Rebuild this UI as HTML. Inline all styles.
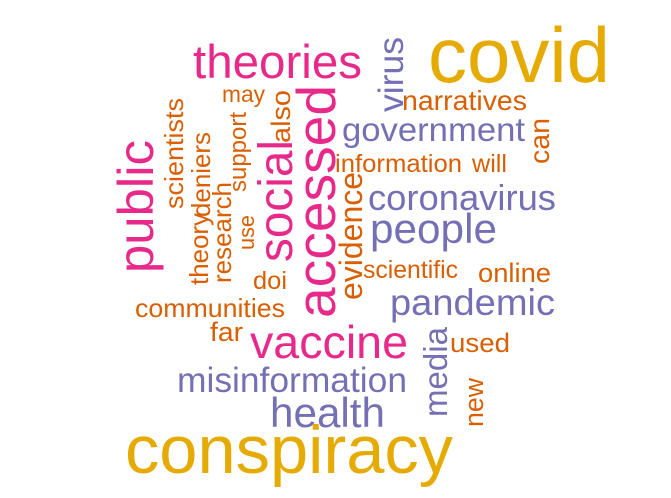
<!DOCTYPE html>
<html><head><meta charset="utf-8"><style>
html,body{margin:0;padding:0;background:#fff;width:671px;height:498px;overflow:hidden}
svg text{font-family:"Liberation Sans",Arial,sans-serif}
</style></head><body>
<svg width="671" height="498" viewBox="0 0 671 498">
<g id="words"></g>
</svg>
<script>
// word, size, x, y(baseline), rotated, color, length
const words = ["covid","theories","virus","narratives","may","accessed","also","support","scientists","deniers","theory","research","use","social","public","evidence","government","can","information","will","coronavirus","people","scientific","online","doi","pandemic","communities","far","vaccine","media","used","misinformation","new","health","conspiracy"];
const sizes = [78,47,35,28,23,55,27,24,26,26,26,26,22,48,50,32,33,28,25,25,36,42,25,27,25,37,26,27,46,33,27,35,27,42,68];
const xs = [428,193,403,402,222,335,290,246,183,210,208,231,254,292,153,362,342,549,335,472,368,370,363,478,253,390,135,210,250,447,450,177,483,270,125];
const ys = [82,78,112,110,102,318,143,192,209,217,285,283,250,262,273,300,141,164,172,172,210,243,278,282,289,315,317,341,358,417,352,392,427,427,473];
const rot = [0,0,1,0,0,1,1,1,1,1,1,1,1,1,1,1,0,1,0,0,0,0,0,0,0,0,0,0,0,1,0,0,1,0,0];
const colorKey = ["g","p","u","o","o","p","o","o","o","o","o","o","o","p","p","o","u","o","o","o","u","u","o","o","o","u","o","o","p","u","o","u","o","u","g"];
const lens = [182,169,75,125,43,233,53,80,111,85,72,101,35,122,133,128,183,46,127,35,188,127,95,73,34,165,150,33,158,90,60,230,49,115,328];
const palette = {g:"#E6AB02",p:"#E7298A",u:"#7570B3",o:"#D95F02"};
const g = document.getElementById('words');
const NS = "http://www.w3.org/2000/svg";
words.forEach((w,i)=>{
  const t = document.createElementNS(NS,'text');
  t.textContent = w;
  t.setAttribute('font-size', sizes[i]);
  t.setAttribute('fill', palette[colorKey[i]]);
  t.setAttribute('textLength', lens[i]);
  t.setAttribute('lengthAdjust','spacingAndGlyphs');
  if (rot[i]) {
    t.setAttribute('x',0); t.setAttribute('y',0);
    t.setAttribute('transform','translate('+xs[i]+','+ys[i]+') rotate(-90)');
  } else {
    t.setAttribute('x',xs[i]); t.setAttribute('y',ys[i]);
  }
  
  
  g.appendChild(t);
});
</script>
</body></html>
